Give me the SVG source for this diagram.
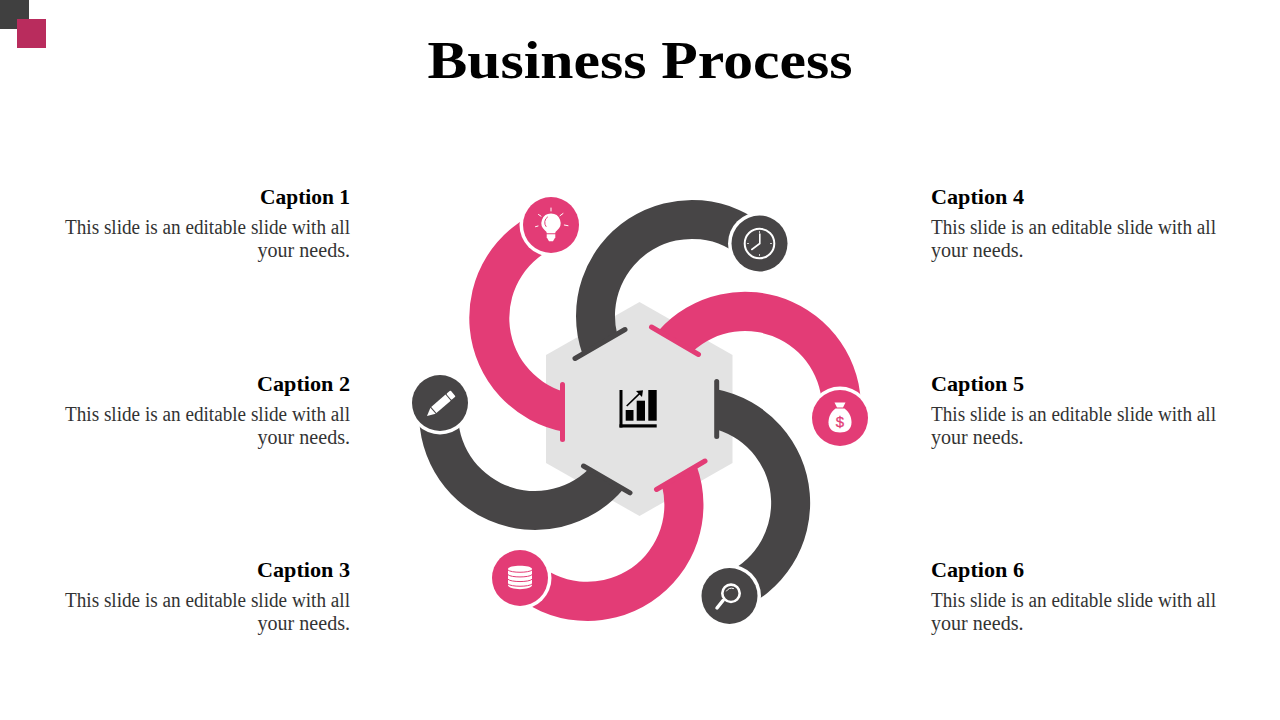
<svg xmlns="http://www.w3.org/2000/svg" width="1280" height="720" viewBox="0 0 1280 720">
<style>
.p{fill:#e33c76}.g{fill:#474546}
.bp{stroke:#e33c76;stroke-width:5;stroke-linecap:round;fill:none}
.bg{stroke:#474546;stroke-width:5;stroke-linecap:round;fill:none}
.ring{fill:#fff}
.w{fill:#fff}
.wl{stroke:#fff;fill:none;stroke-linecap:round}
.title{font:bold 52px "Liberation Serif",serif;fill:#000}
.cap{font:bold 21px "Liberation Serif",serif;fill:#000}
.body{font:20.5px "Liberation Serif",serif;fill:#333}
.r{text-anchor:end}
</style>
<rect width="1280" height="720" fill="#fff"/>
<rect x="0" y="0" width="29" height="29" fill="#404040"/>
<rect x="17" y="19" width="29" height="29" fill="#b92c5d"/>
<text class="title" x="640" y="78" text-anchor="middle" textLength="425" lengthAdjust="spacingAndGlyphs">Business Process</text>

<polygon id="hexagon" points="639.5,302 732.5,355 732.5,463 639.5,516 546,463 546,355" fill="#e3e3e3"/>

<g id="connectors">
<path class="p" d="M565,432 A116,116 0 0 1 545,209 L559,246 A77,77 0 0 0 565,392 Z"/>
<path class="g" d="M623.3,489.2 A116,116 0 0 1 419.8,400.7 L458.5,405.1 A77,77 0 0 0 588.8,469.1 Z"/>
<path class="p" d="M696.7,465.9 A116,116 0 0 1 508.7,590.1 L535.2,561.5 A77,77 0 0 0 662.1,486.3 Z"/>
<path class="g" d="M716.7,389.2 A116,116 0 0 1 735.4,611.4 L721.5,575 A77,77 0 0 0 716.7,429.4 Z"/>
<path class="p" d="M658.2,330.9 A116,116 0 0 1 860.4,420.2 L821.6,416 A77,77 0 0 0 692.8,351.4 Z"/>
<path class="g" d="M582.5,354.2 A116,116 0 0 1 771,231 L744.5,259.6 A77,77 0 0 0 617.2,334.3 Z"/>
<line class="bp" x1="562.5" y1="384.5" x2="562.5" y2="439.5"/>
<line class="bg" x1="583.5" y1="466" x2="630" y2="492.8"/>
<line class="bp" x1="656.5" y1="489.5" x2="705" y2="461"/>
<line class="bg" x1="716.7" y1="381.5" x2="716.7" y2="436.5"/>
<line class="bp" x1="651.5" y1="327" x2="698.5" y2="354.5"/>
<line class="bg" x1="575" y1="358.5" x2="625" y2="329.5"/>
</g>

<g id="hub">
<rect x="619.5" y="390" width="3" height="37.5"/>
<rect x="619.5" y="424.3" width="37.2" height="3.2"/>
<rect x="625.7" y="410" width="7.8" height="10.7"/>
<rect x="636.7" y="400.7" width="8.3" height="20"/>
<rect x="648.3" y="390" width="8.4" height="30.7"/>
<line x1="626.7" y1="406" x2="640" y2="393.2" stroke="#000" stroke-width="1.6"/>
<polygon points="643,390.2 636,391 642,397"/>
</g>

<g id="node1">
<circle class="ring" cx="551" cy="225" r="31.5"/>
<circle class="p" cx="551" cy="225" r="28"/>
<path class="w" d="M551,213.5 a9.500,9.500 0 0 1 6,16.900 c-1.300,1 -1.700,1.600 -1.700,2.900 h-8.600 c0,-1.300 -0.400,-1.900 -1.700,-2.900 a9.500,9.500 0 0 1 6,-16.900 Z"/>
<path class="w" d="M546.700,234.300 h8.600 v3 l-2.300,4 h-4 l-2.300,-4 Z"/>
<path stroke="#e33c76" fill="none" stroke-linecap="round" stroke-width="1" d="M546,226.500 a6.500,6.500 0 0 1 1.500,-9.500"/>
<path class="wl" stroke-width="1" d="M551,208 v3 M538.500,214.500 l2.500,1.700 M563,213.500 l-3,2.200 M535.500,226.700 l2.500,-0.700 M564.300,225 l3.700,0.700"/>
<text class="cap r" x="350" y="204" textLength="90" lengthAdjust="spacingAndGlyphs">Caption 1</text>
<text class="body r" x="350" y="234" textLength="285" lengthAdjust="spacingAndGlyphs">This slide is an editable slide with all</text>
<text class="body r" x="350" y="257" textLength="92.500" lengthAdjust="spacingAndGlyphs">your needs.</text>
</g>

<g id="node2">
<circle class="ring" cx="440" cy="403" r="31.5"/>
<circle class="g" cx="440" cy="403" r="28"/>
<g transform="translate(427,416) rotate(-41)">
<polygon class="w" points="0,0 8,-4 8,4"/>
<rect class="w" x="9" y="-4" width="19" height="8"/>
<rect class="w" x="29" y="-4" width="5.500" height="8" rx="1"/>
</g>
<text class="cap r" x="350" y="391" textLength="93" lengthAdjust="spacingAndGlyphs">Caption 2</text>
<text class="body r" x="350" y="421" textLength="285" lengthAdjust="spacingAndGlyphs">This slide is an editable slide with all</text>
<text class="body r" x="350" y="444" textLength="92.500" lengthAdjust="spacingAndGlyphs">your needs.</text>
</g>

<g id="node3">
<circle class="ring" cx="520" cy="578" r="31.5"/>
<circle class="p" cx="520" cy="578" r="28"/>
<path class="w" d="M508,569 c0,-4.500 24,-4.500 24,0 v16 c0,5.500 -24,5.500 -24,0 Z"/>
<path d="M508,570 c3,3 21,3 24,0 M508,574.700 c3,3 21,3 24,0 M508,579.300 c3,3 21,3 24,0 M508,584 c3,3 21,3 24,0" stroke="#e33c76" stroke-width="1" fill="none"/>
<text class="cap r" x="350" y="577" textLength="93" lengthAdjust="spacingAndGlyphs">Caption 3</text>
<text class="body r" x="350" y="607" textLength="285" lengthAdjust="spacingAndGlyphs">This slide is an editable slide with all</text>
<text class="body r" x="350" y="630" textLength="92.500" lengthAdjust="spacingAndGlyphs">your needs.</text>
</g>

<g id="node4">
<circle class="ring" cx="759.500" cy="243.500" r="31.500"/>
<circle class="g" cx="759.500" cy="243.500" r="28"/>
<circle class="wl" cx="759.500" cy="243.500" r="14.800" stroke-width="2"/>
<path class="wl" stroke-width="1.600" d="M759.800,234 V243.500 L751.800,249.500"/>
<path class="wl" stroke-width="0.800" d="M759.500,231.500 v1 M759.500,254.500 v1 M747.500,243.500 h1 M770.500,243.500 h1"/>
<text class="cap" x="931" y="204" textLength="93" lengthAdjust="spacingAndGlyphs">Caption 4</text>
<text class="body" x="931" y="234" textLength="285" lengthAdjust="spacingAndGlyphs">This slide is an editable slide with all</text>
<text class="body" x="931" y="257" textLength="92.500" lengthAdjust="spacingAndGlyphs">your needs.</text>
</g>

<g id="node5">
<circle class="ring" cx="840" cy="418" r="31.500"/>
<circle class="p" cx="840" cy="418" r="28"/>
<path class="w" d="M834.500,402.500 h11 l-2.500,5 h-6 Z"/>
<path class="w" d="M835.500,408.500 h9 c5,3.500 7,9 7,14 c0,7 -5,10 -11.500,10 s-11.500,-3 -11.500,-10 c0,-5 2,-10.500 7,-14 Z"/>
<text x="840" y="427" text-anchor="middle" style="font:15px 'Liberation Sans',sans-serif;fill:#e33c76;stroke:#e33c76;stroke-width:0.300">$</text>
<text class="cap" x="931" y="391" textLength="93" lengthAdjust="spacingAndGlyphs">Caption 5</text>
<text class="body" x="931" y="421" textLength="285" lengthAdjust="spacingAndGlyphs">This slide is an editable slide with all</text>
<text class="body" x="931" y="444" textLength="92.500" lengthAdjust="spacingAndGlyphs">your needs.</text>
</g>

<g id="node6">
<circle class="ring" cx="729.500" cy="596" r="31.500"/>
<circle class="g" cx="729.500" cy="596" r="28"/>
<circle class="wl" cx="731" cy="593.300" r="8.700" stroke-width="2.600"/>
<path class="wl" stroke-width="3.500" d="M723,600.500 L717,608"/>
<path class="wl" stroke-width="1" d="M726.500,591 a6,6 0 0 1 7,-2.500"/>
<text class="cap" x="931" y="577" textLength="93" lengthAdjust="spacingAndGlyphs">Caption 6</text>
<text class="body" x="931" y="607" textLength="285" lengthAdjust="spacingAndGlyphs">This slide is an editable slide with all</text>
<text class="body" x="931" y="630" textLength="92.500" lengthAdjust="spacingAndGlyphs">your needs.</text>
</g>
</svg>
